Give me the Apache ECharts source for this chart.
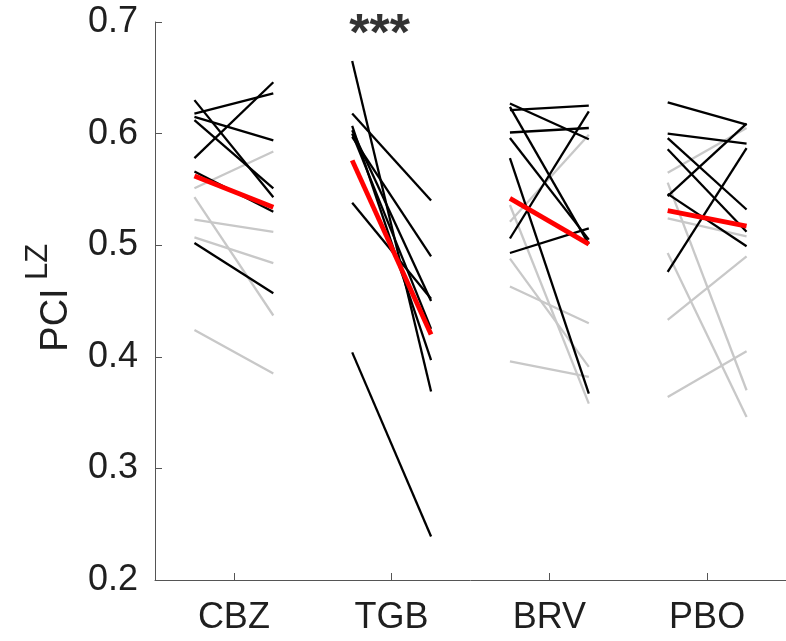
<!DOCTYPE html>
<html>
<head>
<meta charset="utf-8">
<script src="https://cdn.jsdelivr.net/npm/echarts@6/dist/echarts.min.js"></script>
<style>
  html, body { margin: 0; padding: 0; background: #fff; }
  #chart { width: 786px; height: 641px; }
</style>
</head>
<body>
<div id="chart"></div>
<script>
// Drug conditions on the x axis
const categories = ['CBZ', 'TGB', 'BRV', 'PBO'];

// PCI^LZ per subject, before (pre) and after (post) drug intake.
// Black and grey subjects are drawn as separate sets.
const cbzBlackPre  = [0.578, 0.618, 0.615, 0.630, 0.612, 0.502, 0.566];
const cbzBlackPost = [0.646, 0.636, 0.594, 0.543, 0.551, 0.457, 0.530];
const cbzGreyPre   = [0.551, 0.543, 0.523, 0.507, 0.424];
const cbzGreyPost  = [0.584, 0.437, 0.512, 0.484, 0.385];

const tgbBlackPre  = [0.665, 0.618, 0.607, 0.603, 0.600, 0.597, 0.538, 0.404];
const tgbBlackPost = [0.369, 0.540, 0.397, 0.450, 0.425, 0.490, 0.452, 0.239];
const tgbGreyPre   = [];
const tgbGreyPost  = [];

const brvBlackPre  = [0.627, 0.624, 0.621, 0.601, 0.596, 0.578, 0.506, 0.493];
const brvBlackPost = [0.595, 0.501, 0.625, 0.605, 0.505, 0.367, 0.620, 0.515];
const brvGreyPre   = [0.536, 0.521, 0.488, 0.463, 0.396];
const brvGreyPost  = [0.358, 0.599, 0.391, 0.430, 0.382];

const pboBlackPre  = [0.628, 0.600, 0.596, 0.586, 0.546, 0.544, 0.476];
const pboBlackPost = [0.608, 0.591, 0.532, 0.512, 0.499, 0.609, 0.587];
const pboGreyPre   = [0.565, 0.556, 0.524, 0.493, 0.433, 0.364];
const pboGreyPost  = [0.605, 0.370, 0.508, 0.346, 0.490, 0.405];

// Group means
const meanPre  = [0.562, 0.576, 0.542, 0.531];
const meanPost = [0.534, 0.420, 0.501, 0.517];

// Significance marks per condition
const significance = ['', '***', '', ''];

// Y axis range
const yMin = 0.2, yMax = 0.7, yStep = 0.1;

const groups = [
  { black: [cbzBlackPre, cbzBlackPost], grey: [cbzGreyPre, cbzGreyPost] },
  { black: [tgbBlackPre, tgbBlackPost], grey: [tgbGreyPre, tgbGreyPost] },
  { black: [brvBlackPre, brvBlackPost], grey: [brvGreyPre, brvGreyPost] },
  { black: [pboBlackPre, pboBlackPost], grey: [pboGreyPre, pboGreyPost] }
];

const HALF = 0.25; // horizontal half-width of each pre/post pair
const FONT = 'Liberation Sans, Arial, Helvetica, sans-serif';
const TEXT = '#1f1f1f';
const AXIS = '#555555';

function segment(xc, a, b, color, width, z) {
  return {
    type: 'line',
    xAxisIndex: 1,
    data: [[xc - HALF, a], [xc + HALF, b]],
    symbol: 'none',
    silent: true,
    z: z,
    lineStyle: { color: color, width: width, cap: 'butt' },
    animation: false
  };
}

const series = [];
groups.forEach((g, i) => {
  const xc = i + 1;
  g.grey[0].forEach((v, k) => series.push(segment(xc, v, g.grey[1][k], '#c8c8c8', 2.3, 2)));
});
groups.forEach((g, i) => {
  const xc = i + 1;
  g.black[0].forEach((v, k) => series.push(segment(xc, v, g.black[1][k], '#000000', 2.3, 3)));
});
meanPre.forEach((v, i) => series.push(segment(i + 1, v, meanPost[i], '#ff0000', 4.8, 4)));

// Significance stars above each condition
series.push({
  type: 'scatter',
  xAxisIndex: 1,
  symbolSize: 0,
  silent: true,
  z: 5,
  animation: false,
  data: significance.map((s, i) => ({ value: [i + 1, 0.688], label: { show: s !== '', formatter: s } })),
  label: {
    show: true,
    position: 'inside',
    offset: [-12, 0],
    color: '#000',
    fontFamily: FONT,
    fontWeight: 'bold',
    fontSize: 52
  }
});

const chart = echarts.init(document.getElementById('chart'), null, { renderer: 'canvas' });
chart.setOption({
  backgroundColor: '#ffffff',
  animation: false,
  grid: { left: 155, top: 22, width: 632, height: 558, containLabel: false },
  xAxis: [
    {
      type: 'category',
      data: categories,
      boundaryGap: true,
      axisLine: { show: true, lineStyle: { color: AXIS, width: 1 } },
      axisTick: { show: true, inside: true, length: 7, alignWithLabel: true, lineStyle: { color: AXIS, width: 1 } },
      axisLabel: { color: TEXT, fontFamily: FONT, fontSize: 36, margin: 20 },
      splitLine: { show: false }
    },
    {
      type: 'value',
      min: 0.5,
      max: 4.5,
      show: false
    }
  ],
  yAxis: {
    type: 'value',
    min: yMin,
    max: yMax,
    interval: yStep,
    axisLine: { show: true, lineStyle: { color: AXIS, width: 1 } },
    axisTick: { show: true, inside: true, length: 7, lineStyle: { color: AXIS, width: 1 } },
    axisLabel: { color: TEXT, fontFamily: FONT, fontSize: 36, margin: 17, formatter: v => v.toFixed(1) },
    splitLine: { show: false }
  },
  graphic: [
    {
      type: 'text',
      x: 57, y: 320,
      rotation: Math.PI / 2,
      style: { text: 'PCI', font: '38px ' + FONT, fill: TEXT, align: 'center', verticalAlign: 'middle' }
    },
    {
      type: 'text',
      x: 38, y: 262,
      rotation: Math.PI / 2,
      style: { text: 'LZ', font: '31px ' + FONT, fill: TEXT, align: 'center', verticalAlign: 'middle' }
    }
  ],
  series: series
});
</script>
</body>
</html>
